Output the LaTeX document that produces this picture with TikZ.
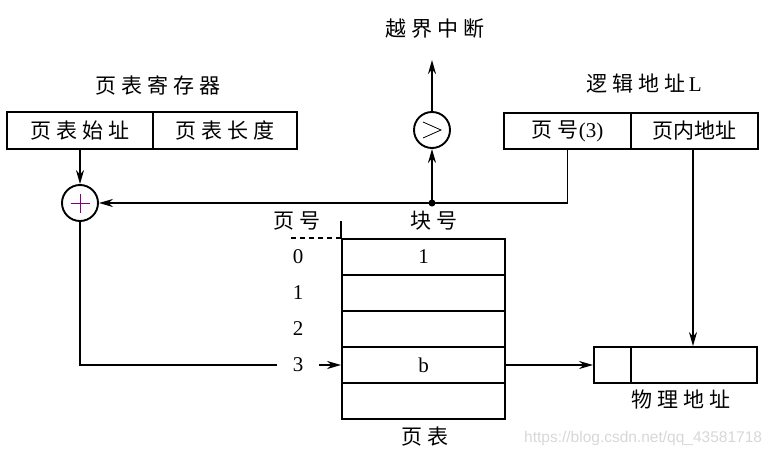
\documentclass[tikz,border=0pt]{standalone}
\usepackage{fontspec}
\setmainfont{Liberation Serif}
\newfontfamily\cjk[LetterSpace=24]{Noto Sans CJK SC}
\newfontfamily\cjktight{Noto Sans CJK SC}
\newfontfamily\wm{Liberation Sans}
\usetikzlibrary{arrows.meta}
\begin{document}
\begin{tikzpicture}[x=1pt,y=-1pt,
  line width=1.9pt,
  lbl/.style={inner sep=0pt,font=\cjk\fontsize{21}{21}\selectfont},
  num/.style={inner sep=0pt,minimum width=40pt,font=\fontsize{21}{21}\selectfont},
  cell/.style={draw,minimum height=36pt,inner sep=0pt,font=\fontsize{21}{21}\selectfont},
  rowcell/.style={cell,minimum width=163pt},
  opc/.style={draw,circle,minimum size=36pt,inner sep=0pt,fill=white},
  arr/.style={-{Stealth[length=14pt,width=8pt]}}]
\useasboundingbox (0,0) rectangle (774,458);
% page-table register
\node[lbl] (regt) at (158,85) {页表寄存器};
\node[cell,minimum width=146pt,minimum height=37pt,font=\cjk\fontsize{21}{21}\selectfont] (ra) at (80,130.5) {页表始址};
\node[cell,minimum width=144pt,minimum height=37pt,font=\cjk\fontsize{21}{21}\selectfont] (rb) at (225,130.5) {页表长度};
% logical address
\node[lbl] (lat) at (644,84) {逻辑地址\,{\rmfamily L}};
\node[cell,minimum width=127pt,minimum height=36pt] (la) at (567.5,131) {{\cjk 页号}(3)};
\node[cell,minimum width=127pt,minimum height=36pt,font=\cjktight\fontsize{21}{21}\selectfont] (lb) at (694.5,131) {页内地址};
% physical address
\node[cell,minimum width=37pt,minimum height=36pt] (pa) at (612.5,365) {};
\node[cell,minimum width=126pt,minimum height=36pt] (pb) at (694,365) {};
\node[lbl] (pat) at (681,400) {物理地址};
% operators
\node[opc] (plus) at (80,203) {};
\draw[line width=0.8pt,draw={rgb,255:red,128;green,0;blue,128}] (plus.center) ++(-9.5,0) -- ++(19,0) (plus.center) ++(0,-9.5) -- ++(0,19);
\node[opc] (cmp) at (432,130) {};
\draw[line width=0.8pt] (423,122) -- (441,130) -- (423,138);
\coordinate (j) at (432,203);
\coordinate (up) at (432,60);
\node[lbl] (intr) at (435,29) {越界中断};
% page table
\foreach \i in {0,...,4} {
  \node[rowcell] (row\i) at (423.5,{257+36*\i}) {};
}
\node[inner sep=0pt,font=\fontsize{21}{21}\selectfont] at (row0) {1};
\node[inner sep=0pt,font=\fontsize{21}{21}\selectfont] at (row3) {b};
\foreach \i in {0,...,3} {
  \node[num] (n\i) at (298,{257+36*\i}) {\i};
}
\node[lbl] (pnt) at (297,221) {页号};
\node[lbl] (bnt) at (434,221) {块号};
\node[lbl] (ptt) at (425,437) {页表};
\draw (row0.north west) -- ++(0,-17);
\draw[dashed,dash pattern=on 5pt off 4pt] (row0.north west) -- ++(-53,0);
% connectors
\draw[arr] (ra.south) -- (plus.north);
\draw[arr] (la.south) |- (j) -- (plus.east);
\fill (j) circle (3.5pt);
\draw[arr] (j) -- (cmp.south);
\draw[arr] (cmp.north) -- (up);
\draw[arr] (lb.south -| 693,0) -- (pb.north -| 693,0);
\draw (plus.south) |- (n3.west);
\draw[arr] (n3.east) -- (row3.west);
\draw[arr] (row3.east) -- (pa.west);
% watermark
\node[anchor=east,inner sep=0pt,text={rgb,255:red,215;green,215;blue,215},font=\wm\fontsize{15.5}{15.5}\selectfont] at (763,438) {https://blog.csdn.net/qq\_43581718};
\end{tikzpicture}
\end{document}
